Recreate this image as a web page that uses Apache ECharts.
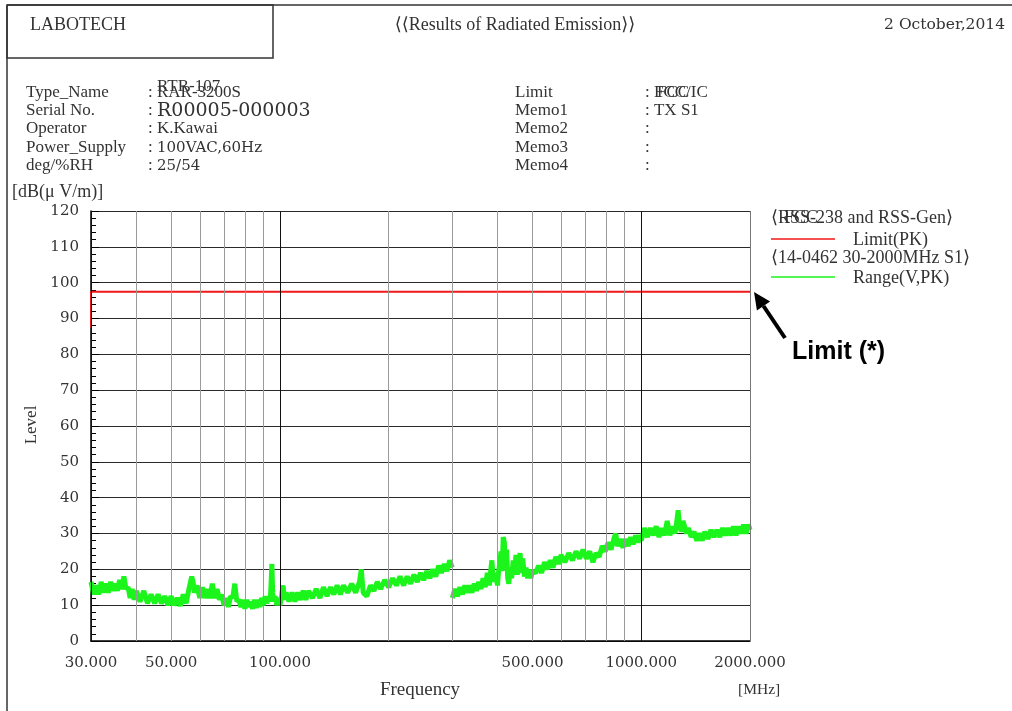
<!DOCTYPE html>
<html>
<head>
<meta charset="utf-8">
<script src="https://cdn.jsdelivr.net/npm/echarts@6/dist/echarts.min.js"></script>
<style>
  html, body { margin: 0; padding: 0; background: #fff; }
  #chart { width: 1012px; height: 711px; }
</style>
</head>
<body>
<div id="chart"></div>
<script>
// 数据
var xLabelValues = [30, 50, 100, 500, 1000, 2000];
var xGridMinor = [40, 50, 60, 70, 80, 90, 200, 300, 400, 500, 600, 700, 800, 900];
var xGridMajor = [30, 100, 1000, 2000];

var limitFreq = [30, 30, 2000];
var limitLevel = [87.5, 97.5, 97.5];

// 30 - 300 MHz
var freqA = [
  30, 30.5, 31, 31.5, 32, 32.5, 33, 33.5, 34, 34.5,
  35, 35.5, 36, 36.5, 37, 37.5, 38, 38.5, 39, 39.5,
  40, 41, 42, 43, 44, 45, 46, 47, 48, 49,
  50, 51, 52, 53, 54, 55, 56, 57, 57.5, 58,
  59, 60, 61, 62, 63, 64, 65, 66, 67, 68,
  69, 70, 71, 72, 73, 74, 75, 76, 77, 78,
  79, 80, 81, 82, 83, 84, 85, 86, 87, 88,
  89, 90, 91, 92, 93, 94, 94.5, 95, 95.5, 96,
  97, 98, 99, 100, 101, 102, 103, 104, 106, 108,
  110, 112, 114, 116, 118, 120, 123, 126, 129, 132,
  135, 138, 141, 144, 147, 150, 154, 158, 162, 166,
  168, 170, 174, 178, 182, 186, 190, 195, 200, 205,
  210, 215, 220, 225, 230, 235, 240, 245, 250, 255,
  260, 265, 270, 275, 280, 285, 290, 295, 300
];
var levelA = [
  16.5, 13, 15.5, 13, 16.5, 13.5, 16, 13.5, 16.5, 14,
  16, 14, 17, 14.5, 18, 14.5, 15, 12, 14.5, 11.5,
  14, 11, 14, 10.5, 13, 10.5, 13, 10.5, 12.5, 10,
  12.5, 10, 12, 9.8, 13, 10.5, 14.5, 18, 16.5, 13.5,
  15.5, 12, 15, 12, 14.5, 12, 16, 12, 14.5, 11.5,
  13, 10, 12, 9.5, 12.5, 12, 16, 11, 11.5, 9.5,
  11.5, 9, 11.5, 9.5, 11, 9, 11.5, 9.2, 11.5, 9.5,
  12, 10, 12.5, 10.5, 12.5, 11, 16, 21.5, 13.5, 11,
  12.5, 10, 12, 10, 12.5, 15.5, 11.5, 13.5, 11, 13.5,
  11, 13.5, 11.5, 14, 11.5, 14, 12, 14.5, 12, 15,
  12.5, 15, 13, 15.5, 13, 15.5, 13.5, 16, 13.5, 16.5,
  20, 13.5, 12.5, 15.5, 14, 16.5, 14.5, 17, 15, 17.5,
  15.5, 18, 15.5, 18, 16, 18.5, 16.5, 19, 17, 19.5,
  17.5, 20, 18, 21, 19, 21.5, 19.5, 22.5, 20.5
];

// 300 - 2000 MHz
var freqB = [
  300, 305, 310, 315, 320, 325, 330, 335, 340, 345,
  350, 355, 360, 365, 370, 375, 380, 383, 386, 390,
  395, 400, 403, 406, 409, 412, 415, 418, 421, 424,
  427, 430, 434, 438, 442, 446, 450, 454, 458, 462,
  466, 470, 475, 480, 485, 490, 495, 500, 510, 520,
  530, 540, 550, 560, 570, 580, 590, 600, 615, 630,
  645, 660, 675, 690, 705, 720, 735, 750, 765, 780,
  795, 810, 825, 840, 850, 860, 875, 890, 905, 920,
  935, 950, 965, 980, 995, 1000, 1020, 1040, 1060, 1080,
  1100, 1120, 1140, 1160, 1180, 1200, 1220, 1240, 1255, 1265,
  1275, 1290, 1305, 1320, 1335, 1350, 1375, 1400, 1425, 1450,
  1475, 1500, 1530, 1560, 1590, 1620, 1650, 1680, 1710, 1740,
  1770, 1800, 1830, 1860, 1890, 1920, 1950, 1980, 2000
];
var levelB = [
  12, 14.5, 12.5, 15, 13, 15.5, 13.5, 15.5, 13.5, 16,
  14, 16.5, 14.5, 17.5, 15, 19, 15.5, 19.5, 22.5, 16.5,
  19, 15.5, 19.5, 21.5, 25, 19.5, 29, 27.5, 20.5, 25.5,
  17.5, 16, 20.5, 17.5, 22.5, 18.5, 24, 18.5, 22.5, 24.5,
  19, 23, 18, 20.5, 17.5, 20, 17.5, 19.5, 19, 21,
  19, 22, 20, 22.5, 20.5, 23.5, 21.5, 24, 22, 24.5,
  22.5, 25, 23, 25.5, 23, 25, 22, 24.5, 23.5, 26.5,
  25, 27.5, 25.5, 28.5, 30, 26.5, 28.5, 26, 28.5, 26.5,
  29, 27, 29.5, 27.5, 29.5, 28, 31.5, 29, 31.5, 29.5,
  32, 29, 31.5, 29.5, 33.5, 29.5, 32, 30, 33.5, 36.5,
  32.5, 30.5, 33.5, 34, 30, 31.5, 29, 30.5, 28, 30,
  28, 30.5, 28.5, 31, 29, 31, 29, 31.5, 29.5, 31.5,
  29.5, 32, 29.5, 32, 30, 32.5, 30, 32.5, 31
];

function zip(xs, ys) {
  return xs.map(function (x, i) { return [x, ys[i]]; });
}

var serif = '"Liberation Serif", "DejaVu Serif", serif';
var numSerif = '"DejaVu Serif", serif';
var txtColor = '#333';

// 竖向网格线 (横轴标签挂在线的起点)
var vLines = [];
xGridMajor.concat(xGridMinor).forEach(function (v) {
  var major = xGridMajor.indexOf(v) > -1;
  var color = major ? (v === 2000 ? '#777' : '#111') : '#9a9a9a';
  var labelled = xLabelValues.indexOf(v) > -1;
  vLines.push({
    xAxis: v,
    lineStyle: { color: color, width: 1, type: 'solid' },
    label: {
      show: labelled, position: 'start', distance: 15,
      formatter: v.toFixed(3), color: txtColor, fontSize: 15, fontFamily: numSerif
    }
  });
});

var chart = echarts.init(document.getElementById('chart'), null, { renderer: 'canvas' });

function t(x, y, text, size, family, extra) {
  var style = { text: text, fill: txtColor, font: size + 'px ' + (family || serif), textVerticalAlign: 'middle' };
  if (extra) { for (var k in extra) style[k] = extra[k]; }
  return { type: 'text', x: x, y: y, style: style };
}

var option = {
  animation: false,
  backgroundColor: '#fff',
  grid: { left: 91, right: 262, top: 211, bottom: 70 },
  xAxis: {
    type: 'log',
    logBase: 10,
    min: 30,
    max: 2000,
    axisLine: { show: true, lineStyle: { color: '#000', width: 1.5 } },
    axisTick: { show: false },
    axisLabel: { show: false },
    splitLine: { show: false }
  },
  yAxis: {
    type: 'value',
    min: 0,
    max: 120,
    interval: 10,
    axisLine: { show: true, lineStyle: { color: '#000', width: 1.5 } },
    axisTick: { show: true, inside: true, length: 8, lineStyle: { color: '#000' } },
    minorTick: { show: true, splitNumber: 5, length: 5, lineStyle: { color: '#000' } },
    axisLabel: { color: txtColor, fontSize: 15, fontFamily: numSerif, margin: 12 },
    splitLine: { show: true, lineStyle: { color: '#2a2a2a', width: 1.2 } }
  },
  series: [
    {
      name: 'Range(V,PK)',
      type: 'line',
      data: zip(freqA, levelA),
      showSymbol: false,
      lineStyle: { color: '#1cf51c', width: 5 },
      z: 3,
      markLine: {
        silent: true,
        symbol: ['none', 'none'],
        animation: false,
        data: vLines
      }
    },
    {
      name: 'Range(V,PK)',
      type: 'line',
      data: zip(freqB, levelB),
      showSymbol: false,
      lineStyle: { color: '#1cf51c', width: 5 },
      z: 3
    },
    {
      name: 'Limit(PK)',
      type: 'line',
      data: zip(limitFreq, limitLevel),
      showSymbol: false,
      lineStyle: { color: '#f01818', width: 2 },
      z: 4
    }
  ],
  graphic: [
    // 外框
    { type: 'line', shape: { x1: 7, y1: 5, x2: 1012, y2: 5 }, style: { stroke: '#333', lineWidth: 1.5 } },
    { type: 'line', shape: { x1: 7, y1: 5, x2: 7, y2: 711 }, style: { stroke: '#333', lineWidth: 1.5 } },
    { type: 'rect', shape: { x: 7, y: 5, width: 266, height: 53 }, style: { fill: 'none', stroke: '#333', lineWidth: 1.5 } },
    // 标题区
    t(30, 25, 'LABOTECH', 18),
    t(515, 25, '⟨⟨Results of Radiated Emission⟩⟩', 18, null, { textAlign: 'center' }),
    t(1005, 25, '2 October,2014', 15.5, numSerif, { textAlign: 'right' }),

    t(26, 93, 'Type_Name', 17),
    t(26, 111, 'Serial No.', 17),
    t(26, 129, 'Operator', 17),
    t(26, 148, 'Power_Supply', 17),
    t(26, 166, 'deg/%RH', 17),

    t(148, 93, ': RAR-3200S', 17),
    t(157, 87, 'RTR-107', 17),
    t(148, 111, ':', 17),
    t(157, 111, 'R00005-000003', 19, numSerif),
    t(148, 129, ': K.Kawai', 17),
    t(148, 148, ':', 17),
    t(157, 148, '100VAC,60Hz', 15, numSerif),
    t(148, 166, ':', 17),
    t(157, 166, '25/54', 15, numSerif),

    t(515, 93, 'Limit', 17),
    t(515, 111, 'Memo1', 17),
    t(515, 129, 'Memo2', 17),
    t(515, 148, 'Memo3', 17),
    t(515, 166, 'Memo4', 17),

    t(645, 93, ': FCC/IC', 17),
    t(657, 93, 'FCC', 17),
    t(645, 111, ': TX S1', 17),
    t(645, 129, ':', 17),
    t(645, 148, ':', 17),
    t(645, 166, ':', 17),

    // 轴名
    t(12, 192, '[dB(μ V/m)]', 18),
    { type: 'text', x: 32, y: 425, rotation: Math.PI / 2, style: { text: 'Level', fill: txtColor, font: '17px ' + serif, textAlign: 'center', textVerticalAlign: 'middle' } },
    t(420, 690, 'Frequency', 19, null, { textAlign: 'center' }),
    t(738, 690, '[MHz]', 15.5),

    // 图例
    t(771, 218, '⟨RSS-238 and RSS-Gen⟩', 18),
    t(784, 218, 'FCC', 18),
    { type: 'line', shape: { x1: 771, y1: 239, x2: 835, y2: 239 }, style: { stroke: '#f01818', lineWidth: 1.5 } },
    t(853, 240, 'Limit(PK)', 18),
    t(771, 258, '⟨14-0462 30-2000MHz S1⟩', 18),
    { type: 'line', shape: { x1: 771, y1: 277, x2: 835, y2: 277 }, style: { stroke: '#1cf51c', lineWidth: 1.5 } },
    t(853, 278, 'Range(V,PK)', 18),

    // 标注箭头
    { type: 'line', shape: { x1: 785, y1: 338, x2: 763.5, y2: 306 }, style: { stroke: '#000', lineWidth: 4 } },
    { type: 'polygon', shape: { points: [[754, 292], [770.1, 301.6], [756.9, 310.6]] }, style: { fill: '#000' } },
    { type: 'text', x: 792, y: 352, style: { text: 'Limit (*)', fill: '#000', font: 'bold 25px "Liberation Sans", Arial, sans-serif', textVerticalAlign: 'middle' } }
  ]
};

chart.setOption(option);
</script>
</body>
</html>
